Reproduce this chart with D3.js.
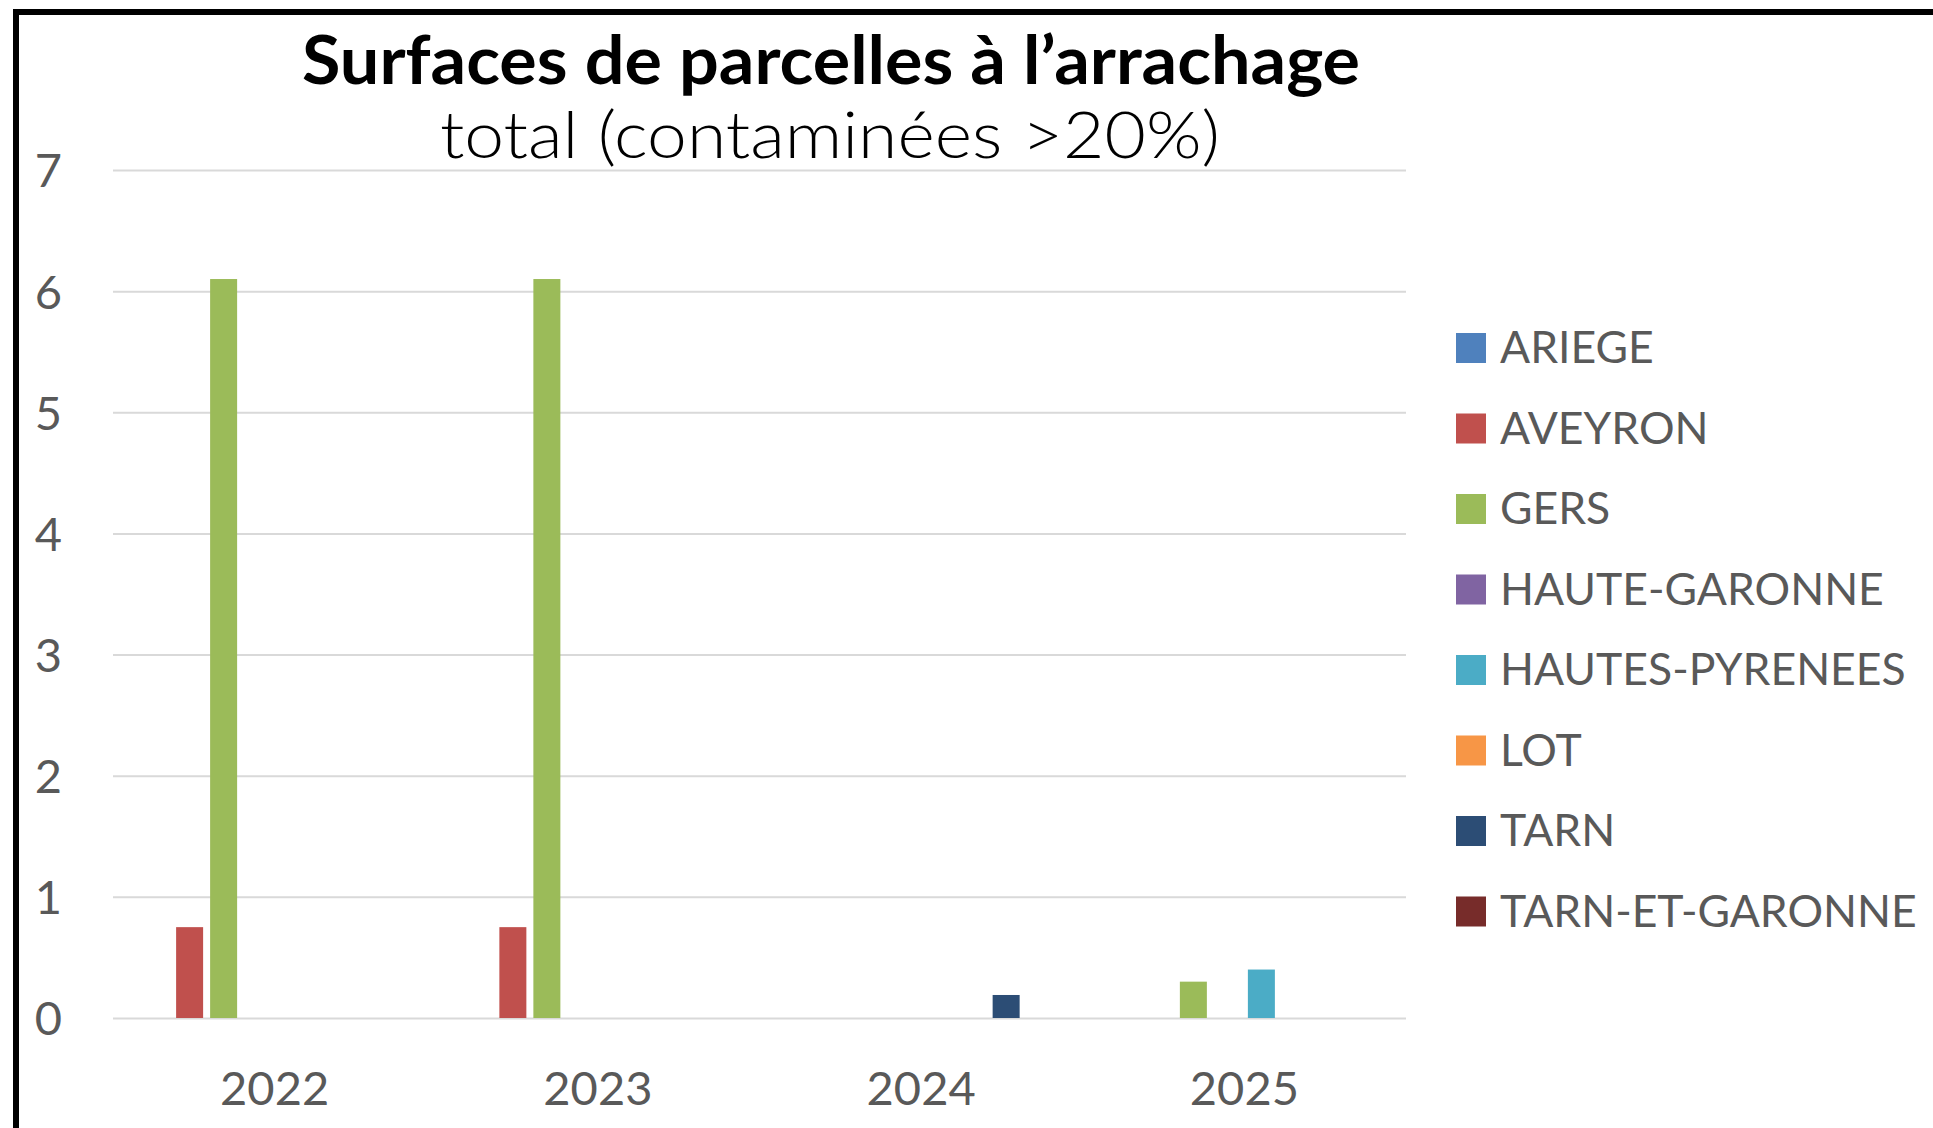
<!DOCTYPE html>
<html lang="fr">
<head>
    <meta charset="UTF-8">
    <title>Surfaces de parcelles à l’arrachage</title>
    <script src="https://d3js.org/d3.v7.min.js"></script>
    <style>
        body {
            margin: 0;
            background-color: #ffffff;
            font-family: Lato, "Open Sans", sans-serif;
        }
        svg { display: block; }
        .etiquette { fill: #595959; }
    </style>
</head>
<body>
    <svg width="1933" height="1128"></svg>

    <script>
        // données
        const annees = ["2022", "2023", "2024", "2025"];
        const departements = ["ARIEGE", "AVEYRON", "GERS", "HAUTE-GARONNE", "HAUTES-PYRENEES", "LOT", "TARN", "TARN-ET-GARONNE"];
        const couleurs = ["#4F81BD", "#C0504D", "#9BBB59", "#8064A2", "#4BACC6", "#F79646", "#2C4D75", "#772C2A"];
        const ariege = [0, 0, 0, 0];
        const aveyron = [0.75, 0.75, 0, 0];
        const gers = [6.1, 6.1, 0, 0.3];
        const hauteGaronne = [0, 0, 0, 0];
        const hautesPyrenees = [0, 0, 0, 0.4];
        const lot = [0, 0, 0, 0];
        const tarn = [0, 0, 0.19, 0];
        const tarnEtGaronne = [0, 0, 0, 0];
        const ticksY = [0, 1, 2, 3, 4, 5, 6, 7];

        const series = [ariege, aveyron, gers, hauteGaronne, hautesPyrenees, lot, tarn, tarnEtGaronne];

        const svg = d3.select("svg");
        const zone = { gauche: 113, droite: 1406, haut: 170, bas: 1018 };

        const x = d3.scaleBand()
            .domain(annees)
            .range([zone.gauche, zone.droite]);

        const xSerie = d3.scaleBand()
            .domain(departements)
            .range([0, x.bandwidth()])
            .paddingInner(0.206)
            .paddingOuter(0.856);

        const y = d3.scaleLinear()
            .domain([0, 7])
            .range([zone.bas, zone.haut]);

        const couleur = d3.scaleOrdinal().domain(departements).range(couleurs);

        // cadre (haut et gauche seulement visibles)
        svg.append("path")
            .attr("d", "M16,1140 L16,12 L1945,12")
            .attr("fill", "none")
            .attr("stroke", "#000")
            .attr("stroke-width", 6);

        // grille
        const grille = svg.append("g")
            .attr("transform", `translate(${zone.gauche},0)`)
            .call(d3.axisLeft(y).tickValues(ticksY).tickSize(-(zone.droite - zone.gauche)).tickFormat(""));
        grille.select(".domain").remove();
        grille.selectAll("line").attr("stroke", "#d9d9d9").attr("stroke-width", 2);

        // axe Y (étiquettes)
        const axeY = svg.append("g")
            .attr("transform", "translate(62,0)")
            .call(d3.axisLeft(y).tickValues(ticksY).tickSize(0).tickPadding(0).tickFormat(d3.format("d")));
        axeY.select(".domain").remove();
        axeY.selectAll("text")
            .attr("class", "etiquette")
            .attr("dy", "0.36em")
            .style("font-family", "Lato")
            .style("font-size", "47px");

        // axe X (étiquettes)
        const axeX = svg.append("g")
            .attr("transform", "translate(0,1105)")
            .call(d3.axisBottom(x).tickSize(0).tickPadding(0));
        axeX.select(".domain").remove();
        axeX.selectAll("text")
            .attr("class", "etiquette")
            .attr("dy", 0)
            .attr("y", 0)
            .style("font-family", "Lato")
            .style("font-size", "47px");

        // barres
        const groupes = svg.append("g")
            .selectAll("g")
            .data(departements)
            .join("g")
            .attr("fill", d => couleur(d));

        groupes.selectAll("rect")
            .data((d, i) => annees.map((a, j) => ({ annee: a, dep: d, valeur: series[i][j] })))
            .join("rect")
            .filter(d => d.valeur > 0)
            .attr("x", d => x(d.annee) + xSerie(d.dep))
            .attr("width", xSerie.bandwidth())
            .attr("y", d => y(d.valeur))
            .attr("height", d => y(0) - y(d.valeur));

        // titre
        svg.append("text")
            .attr("x", 831)
            .attr("y", 84)
            .attr("text-anchor", "middle")
            .attr("textLength", 1058)
            .attr("lengthAdjust", "spacingAndGlyphs")
            .style("font-family", "Lato")
            .style("font-weight", 700)
            .style("font-size", "66px")
            .style("fill", "#000")
            .text("Surfaces de parcelles à l’arrachage");

        svg.append("text")
            .attr("x", 830)
            .attr("y", 158)
            .attr("text-anchor", "middle")
            .attr("textLength", 780)
            .attr("lengthAdjust", "spacingAndGlyphs")
            .style("font-family", "Lato")
            .style("font-weight", 300)
            .style("font-size", "66px")
            .style("fill", "#000")
            .text("total (contaminées >20%)");

        // légende
        const legende = svg.append("g")
            .selectAll("g")
            .data(departements)
            .join("g")
            .attr("transform", (d, i) => `translate(1456, ${333 + i * 80.5})`);

        legende.append("rect")
            .attr("width", 30)
            .attr("height", 30)
            .attr("fill", d => couleur(d));

        legende.append("text")
            .attr("class", "etiquette")
            .attr("x", 44)
            .attr("y", 30)
            .style("font-family", "Lato")
            .style("font-size", "44.5px")
            .text(d => d);
    </script>
</body>
</html>
